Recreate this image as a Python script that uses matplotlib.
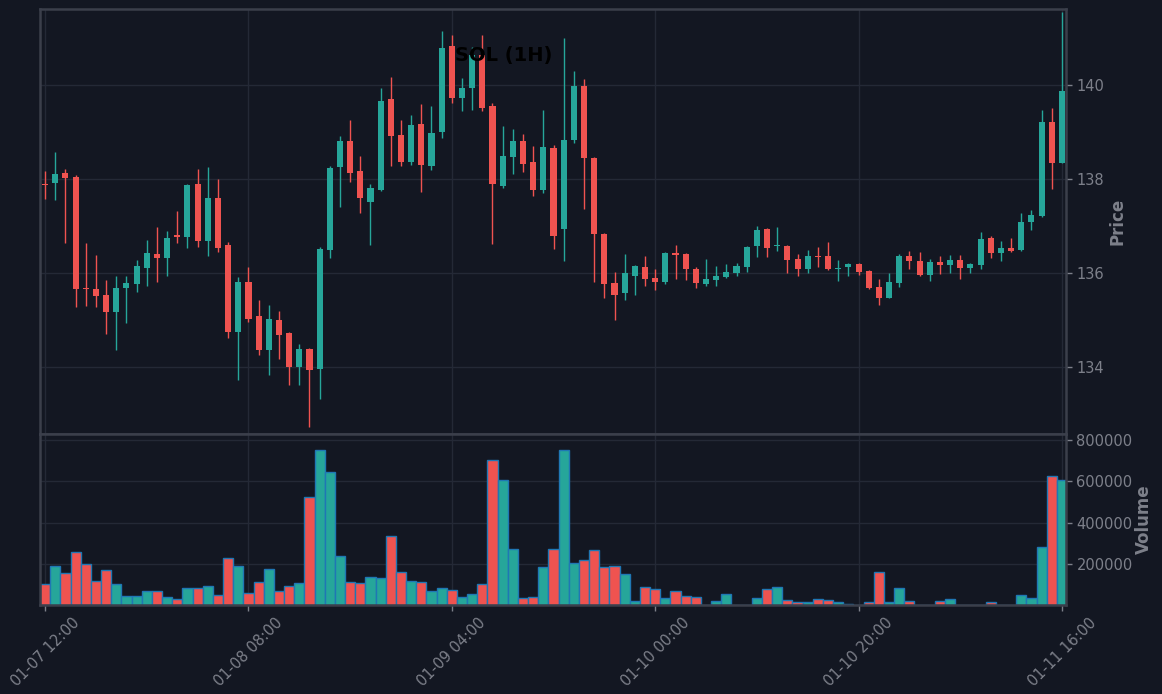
"""plot.py: SOL 1H candlestick chart with volume panel (dark theme)
"""

import matplotlib
matplotlib.use("Agg")
import matplotlib.pyplot as plt
import numpy as np

## tick labels along the time axis (every 20 hours)
tickLabels = ["01-07 12:00", "01-08 08:00", "01-09 04:00", "01-10 00:00", "01-10 20:00", "01-11 16:00"]
tickIndex = [0, 20, 40, 60, 80, 100]

## OHLC values, one per hour
opens = [137.90, 137.91, 138.13, 138.05, 135.68, 135.67, 135.54, 135.18, 135.69, 135.76,
         136.12, 136.41, 136.33, 136.81, 136.76, 137.90, 136.69, 137.60, 136.60, 134.76,
         135.81, 135.09, 134.37, 135.01, 134.73, 134.01, 134.39, 133.96, 136.50, 138.25,
         138.81, 138.18, 137.52, 137.76, 139.71, 138.93, 138.37, 139.18, 138.29, 139.01,
         140.84, 139.72, 139.93, 140.65, 139.56, 137.86, 138.48, 138.81, 138.37, 137.77,
         138.66, 136.95, 138.84, 139.98, 138.45, 136.84, 135.79, 135.57, 135.95, 136.13,
         135.90, 135.82, 136.43, 136.41, 136.09, 135.78, 135.86, 135.91, 136.01, 136.14,
         136.57, 136.94, 136.57, 136.58, 136.30, 136.09, 136.37, 136.37, 136.09, 136.14,
         136.20, 136.05, 135.71, 135.48, 135.80, 136.37, 136.26, 135.97, 136.24, 136.18,
         136.28, 136.12, 136.18, 136.75, 136.44, 136.54, 136.50, 137.08, 137.22, 139.22,
         138.35]
highs = [138.18, 138.57, 138.22, 138.09, 136.64, 136.38, 135.85, 135.94, 135.94, 136.28,
         136.70, 136.98, 136.89, 137.33, 137.90, 138.21, 138.26, 138.00, 136.67, 135.91,
         136.13, 135.43, 135.32, 135.19, 134.74, 134.49, 134.41, 136.55, 138.28, 138.92,
         139.26, 138.49, 137.90, 139.94, 140.18, 139.25, 139.36, 139.59, 139.55, 141.16,
         141.07, 140.15, 140.82, 141.07, 139.62, 139.13, 139.07, 138.96, 138.70, 139.47,
         138.73, 141.00, 140.31, 140.13, 138.48, 136.85, 136.02, 136.40, 136.18, 136.36,
         136.09, 136.46, 136.60, 136.42, 136.13, 136.30, 136.15, 136.20, 136.22, 136.58,
         137.00, 136.96, 136.99, 136.59, 136.40, 136.49, 136.55, 136.66, 136.28, 136.21,
         136.21, 136.07, 135.87, 136.00, 136.41, 136.47, 136.45, 136.30, 136.37, 136.38,
         136.38, 136.21, 136.87, 136.79, 136.68, 136.75, 137.28, 137.34, 139.47, 139.51,
         141.55]
lows = [137.57, 137.55, 136.64, 135.28, 135.30, 135.28, 134.70, 134.36, 134.94, 135.61,
        135.72, 135.81, 135.94, 136.65, 136.53, 136.55, 136.36, 136.45, 134.62, 133.72,
        134.96, 134.26, 133.83, 134.18, 133.63, 133.63, 132.73, 133.33, 136.33, 137.40,
        137.95, 137.28, 136.59, 137.75, 138.29, 138.27, 138.31, 137.72, 138.20, 138.88,
        139.61, 139.45, 139.47, 139.45, 136.62, 137.81, 138.12, 138.16, 137.64, 137.70,
        136.52, 136.26, 138.76, 137.36, 135.81, 135.47, 135.00, 135.43, 135.53, 135.72,
        135.64, 135.77, 135.87, 135.85, 135.68, 135.72, 135.72, 135.90, 135.94, 136.03,
        136.35, 136.35, 136.48, 136.00, 135.95, 136.01, 136.13, 136.06, 135.84, 135.94,
        135.96, 135.66, 135.32, 135.47, 135.70, 136.09, 135.94, 135.84, 135.98, 136.00,
        135.87, 136.00, 136.09, 136.32, 136.25, 136.46, 136.48, 136.91, 137.20, 137.79,
        138.34]
closes = [137.88, 138.11, 138.03, 135.67, 135.66, 135.52, 135.18, 135.69, 135.79, 136.16,
          136.43, 136.33, 136.75, 136.76, 137.88, 136.69, 137.60, 136.54, 134.76, 135.81,
          135.03, 134.37, 135.03, 134.69, 134.01, 134.39, 133.94, 136.52, 138.24, 138.81,
          138.14, 137.59, 137.81, 139.67, 138.91, 138.37, 139.16, 138.31, 138.99, 140.79,
          139.72, 139.94, 140.65, 139.52, 137.89, 138.49, 138.81, 138.33, 137.77, 138.69,
          136.79, 138.83, 139.98, 138.46, 136.84, 135.78, 135.54, 136.01, 136.15, 135.88,
          135.82, 136.43, 136.39, 136.08, 135.80, 135.88, 135.94, 136.03, 136.15, 136.56,
          136.92, 136.54, 136.59, 136.29, 136.09, 136.37, 136.35, 136.08, 136.12, 136.20,
          136.03, 135.69, 135.48, 135.81, 136.37, 136.25, 135.96, 136.24, 136.18, 136.28,
          136.12, 136.19, 136.73, 136.44, 136.54, 136.48, 137.09, 137.24, 139.22, 138.35,
          139.88]
volumes = [103000, 190000, 156000, 258000, 200000, 117000, 171000, 103000, 45000, 45000,
           69000, 69000, 40000, 30000, 84000, 84000, 93000, 50000, 229000, 190000,
           59000, 113000, 176000, 69000, 93000, 108000, 526000, 754000, 647000, 239000,
           113000, 108000, 137000, 132000, 336000, 161000, 117000, 113000, 69000, 84000,
           74000, 40000, 54000, 103000, 701000, 608000, 273000, 35000, 40000, 186000,
           273000, 754000, 205000, 220000, 268000, 186000, 190000, 152000, 20000, 88000,
           79000, 35000, 69000, 45000, 40000, 3000, 20000, 54000, 3000, 3000,
           35000, 79000, 88000, 25000, 15000, 15000, 30000, 25000, 15000, 4000,
           3000, 15000, 161000, 15000, 84000, 20000, 3000, 3000, 20000, 30000,
           3000, 2000, 3000, 15000, 3000, 3000, 50000, 35000, 283000, 628000,
           608000]

## cores (estilo escuro)
BG = "#131722"
UP = "#26a69a"
DOWN = "#ef5350"
GRID = "#242936"
SPINE = "#3b3f4b"
TXT = "#7d808a"


def styleAxis(ax):
    """Aplica o estilo escuro a um eixo"""
    ax.set_facecolor(BG)
    for s in ax.spines.values():
        s.set_color(SPINE)
        s.set_linewidth(1.8)
    ax.grid(True, color=GRID, linewidth=1.0)
    ax.set_axisbelow(True)
    ax.yaxis.tick_right()
    ax.yaxis.set_label_position("right")
    ax.tick_params(colors=TXT, labelcolor=TXT, labelsize=10.5, length=4, width=1)


fig = plt.figure(figsize=(11.62, 6.94), dpi=100)
fig.patch.set_facecolor(BG)

axPrice = fig.add_axes([40 / 1162, 1 - 434 / 694, 1026 / 1162, 425 / 694])
axVol = fig.add_axes([40 / 1162, 1 - 605 / 694, 1026 / 1162, 171 / 694], sharex=axPrice)
styleAxis(axPrice)
styleAxis(axVol)

x = np.arange(len(opens))
o = np.array(opens)
c = np.array(closes)
colors = [UP if c[i] >= o[i] else DOWN for i in range(len(o))]

## candles: wicks + bodies
axPrice.vlines(x, lows, highs, colors=colors, linewidth=1.0, zorder=2)
bodyBottom = np.minimum(o, c)
bodyHeight = np.maximum(np.abs(c - o), 0.02)
axPrice.bar(x, bodyHeight, 0.6, bottom=bodyBottom, color=colors, linewidth=0, zorder=3)

axPrice.set_xlim(-0.5, 100.4)
axPrice.set_ylim(132.58, 141.62)
axPrice.set_yticks([134, 136, 138, 140])
axPrice.set_ylabel("Price", color=TXT, fontsize=12, fontweight="bold")
axPrice.yaxis.set_label_coords(1.041, 0.5)
axPrice.tick_params(axis="x", labelbottom=False, length=0)

## volume bars
axVol.bar(x, volumes, 1.0, color=colors, edgecolor="#1f77b4", linewidth=1.0, zorder=2)
axVol.set_ylim(600, 829400)
axVol.set_yticks([200000, 400000, 600000, 800000])
axVol.set_yticklabels(["200000", "400000", "600000", "800000"])
axVol.set_ylabel("Volume", color=TXT, fontsize=12, fontweight="bold")
axVol.yaxis.set_label_coords(1.067, 0.5)

axVol.set_xticks(tickIndex)
axVol.set_xticklabels(tickLabels, rotation=45, ha="center", fontsize=10.5)

fig.text(504 / 1162, 1 - 56 / 694, "SOL (1H)", ha="center", va="center",
         fontsize=14, fontweight="bold", color="black")

fig.savefig("out.png", dpi=100, facecolor=BG)
